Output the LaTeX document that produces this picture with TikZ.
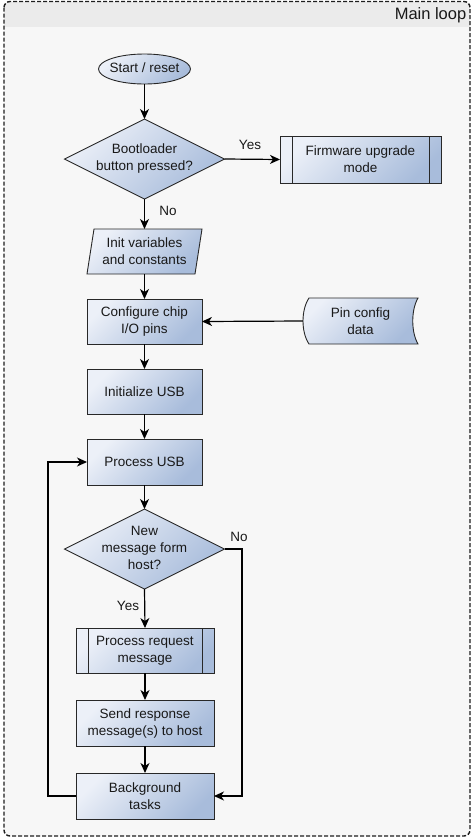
\documentclass[tikz,border=0pt]{standalone}
\usepackage{fontspec}
\setmainfont{Liberation Sans}
\usetikzlibrary{shapes.geometric,arrows.meta,backgrounds}
\definecolor{boxlight}{RGB}{236,240,248}
\definecolor{boxdark}{RGB}{168,188,219}
\definecolor{edgecol}{RGB}{40,40,40}
\definecolor{bodygray}{RGB}{247,247,247}
\definecolor{headgray}{RGB}{235,235,235}
\definecolor{framecol}{RGB}{30,30,30}
\newcommand{\ztext}[1]{\makebox[0pt]{\smash{\raisebox{-0.25em}{\begin{tabular}[c]{@{}c@{}}#1\end{tabular}}}}}
\tikzset{
  txt/.style={font=\fontsize{13.5}{17}\selectfont, text=black!90},
  shapefill/.style={draw=edgecol, line width=0.9pt, top color=boxlight, bottom color=boxdark, shading angle=45},
  base/.style={txt, shapefill, inner sep=2pt, outer sep=0pt, align=center},
  proc/.style={base, rectangle, minimum width=115pt, minimum height=45pt},
  wideproc/.style={proc, minimum width=138pt},
  decision/.style={base, diamond, inner sep=0pt, minimum width=160pt, minimum height=80pt},
  terminal/.style={base, ellipse, inner sep=0pt, minimum width=92pt, minimum height=30pt},
  ghost/.style={txt, rectangle, draw=none, fill=none, inner sep=2pt, outer sep=0pt, align=center},
  arr/.style={-{Stealth[length=10pt,width=9pt,inset=3pt]}, line width=1.2pt, black},
  lbl/.style={txt, inner sep=1pt},
  subline/.style={draw=edgecol, line width=0.9pt}
}
\begin{document}
\begin{tikzpicture}[x=1pt,y=-1pt]
\useasboundingbox (0,0) rectangle (474,839);
% nodes
\node[terminal] (start) at (144.5,69) {\ztext{Start / reset}};
\node[decision] (d1) at (144.5,159) {\ztext{Bootloader\\button pressed?}};
\node[proc, minimum width=161pt, minimum height=47pt] (fw) at (360.5,159.5) {Firmware upgrade\\mode};
\node[ghost, minimum width=115pt, minimum height=45pt] (init) at (144.5,251.5) {Init variables\\and constants};
\node[proc] (conf) at (144.5,321.5) {Configure chip\\I/O pins};
\node[ghost, minimum width=115pt, minimum height=46pt] (pin) at (360.5,321) {Pin config\\data};
\node[proc] (iusb) at (144.5,391.5) {Initialize USB};
\node[proc, minimum height=46pt] (pusb) at (144.5,462) {Process USB};
\node[decision] (d2) at (144.5,549) {\ztext{New\\message form\\host?}};
\node[wideproc] (preq) at (145,650.5) {Process request\\message};
\node[wideproc, minimum height=46pt] (send) at (145,723) {Send response\\message(s) to host};
\node[wideproc, minimum height=46pt] (bg) at (145,796) {Background\\tasks};
% predefined-process side lines
\draw[subline] ([xshift=12pt]fw.north west) -- ([xshift=12pt]fw.south west);
\draw[subline] ([xshift=-12pt]fw.north east) -- ([xshift=-12pt]fw.south east);
\draw[subline] ([xshift=12pt]preq.north west) -- ([xshift=12pt]preq.south west);
\draw[subline] ([xshift=-12pt]preq.north east) -- ([xshift=-12pt]preq.south east);
% labels
\node[lbl] (yes1) at (250,145) {Yes};
\node[lbl] (no1) at (168,211) {No};
\node[lbl] (no2) at (239,537) {No};
\node[lbl] (yes2) at (128,606) {Yes};
\node[anchor=east, font=\fontsize{16.5}{20}\selectfont, text=black!90, inner sep=0pt] (title) at (466.5,15) {Main loop};
% connectors
\draw[arr] (start.south) -- (d1.north);
\draw[arr] (d1.east) -- (fw.west);
\draw[arr] (d1.south) -- (init.north);
\draw[arr] (init.south) -- (conf.north);
\draw[arr] (pin.west) -- (conf.east);
\draw[arr] (conf.south) -- (iusb.north);
\draw[arr] (iusb.south) -- (pusb.north);
\draw[arr] (pusb.south) -- (d2.north);
\draw[arr] (d2.south) -- (preq.north);
\draw[arr] (preq.south) -- (send.north);
\draw[arr] (send.south) -- (bg.north);
\draw[arr] (d2.east) -- ++(17.5,0) |- (bg.east);
\draw[arr] (bg.west) -- ++(-28,0) |- (pusb.west);
% background and custom shapes
\begin{scope}[on background layer]
  \fill[white] (0,0) rectangle (474,839);
  \fill[bodygray, rounded corners=6pt] (4,1.5) rectangle (470,836);
  \begin{scope}
    \clip[rounded corners=6pt] (4,1.5) rectangle (470,836);
    \fill[headgray] (4,1.5) rectangle (470,27);
  \end{scope}
  \draw[framecol, line width=1.4pt, dash pattern=on 4pt off 2pt, rounded corners=6pt] (4,1.5) rectangle (470,836);
  \path[shapefill] ([xshift=7pt]init.north west) -- (init.north east) -- ([xshift=-7pt]init.south east) -- (init.south west) -- cycle;
  \path[shapefill] ([xshift=6pt]pin.north west) -- (pin.north east)
     .. controls ([xshift=-7pt,yshift=-12pt]pin.north east) and ([xshift=-7pt,yshift=12pt]pin.south east) .. (pin.south east)
     -- ([xshift=6pt]pin.south west)
     .. controls ([xshift=-2pt,yshift=12pt]pin.south west) and ([xshift=-2pt,yshift=-12pt]pin.north west) .. ([xshift=6pt]pin.north west) -- cycle;
\end{scope}
\end{tikzpicture}
\end{document}
